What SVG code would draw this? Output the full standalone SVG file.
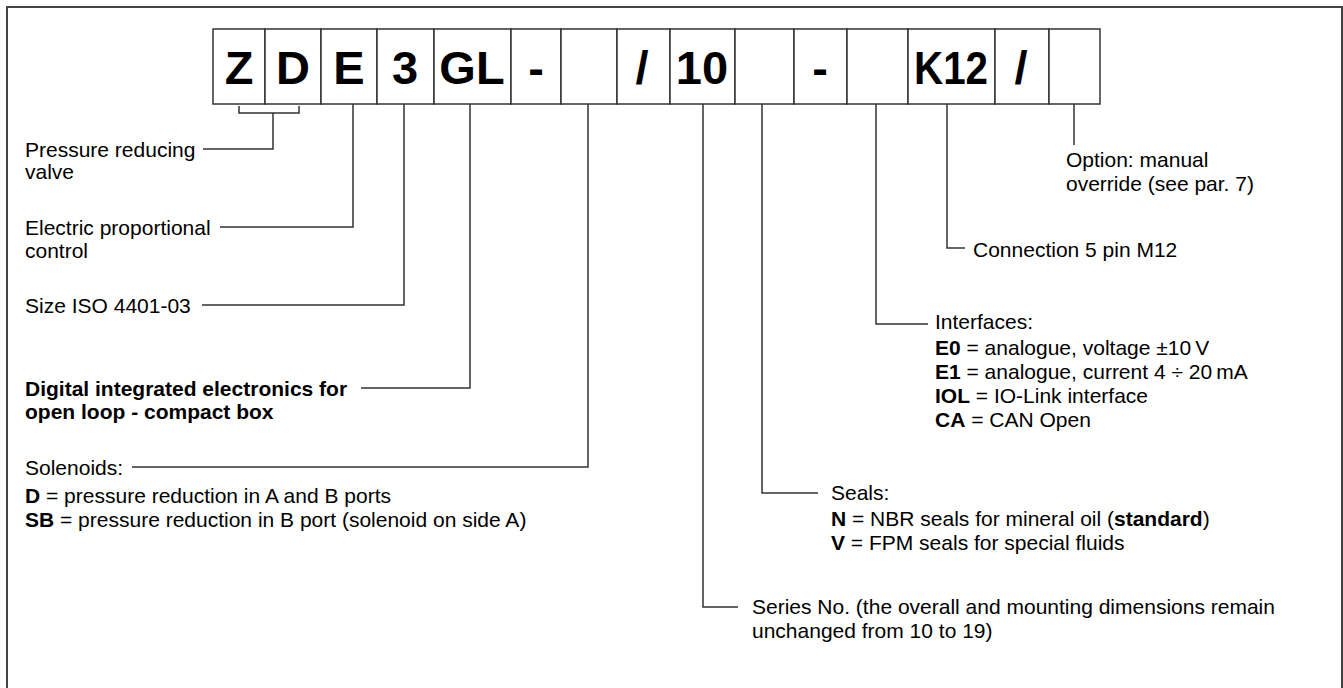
<svg xmlns="http://www.w3.org/2000/svg" width="1343" height="688" viewBox="0 0 1343 688">
<style>
.frame{fill:none;stroke:#444;stroke-width:2}
.cell{fill:#fff;stroke:#333;stroke-width:1.5}
.code{font-family:"Liberation Sans",Arial,sans-serif;font-weight:bold;font-size:47px;fill:#000;text-anchor:middle}
.t{font-family:"Liberation Sans",Arial,sans-serif;font-size:21px;fill:#000}
.b{font-weight:bold}
.c{fill:none;stroke:#333;stroke-width:1.5}
</style>
<rect class="frame" x="7" y="7" width="1335" height="700"/>
<g id="code">
<g id="cell-Z"><rect class="cell" x="213" y="29" width="52" height="75"/><text class="code" x="239" y="84">Z</text></g>
<g id="cell-D"><rect class="cell" x="265" y="29" width="56" height="75"/><text class="code" x="293" y="84">D</text></g>
<g id="cell-E"><rect class="cell" x="321" y="29" width="56" height="75"/><text class="code" x="349" y="84">E</text></g>
<g id="cell-3"><rect class="cell" x="377" y="29" width="57" height="75"/><text class="code" x="405" y="84">3</text></g>
<g id="cell-GL"><rect class="cell" x="434" y="29" width="77" height="75"/><text class="code" x="472" y="84">GL</text></g>
<g id="cell-dash1"><rect class="cell" x="511" y="29" width="50" height="75"/><text class="code" x="536" y="84">-</text></g>
<g id="cell-sol"><rect class="cell" x="561" y="29" width="56" height="75"/></g>
<g id="cell-slash1"><rect class="cell" x="617" y="29" width="53" height="75"/><text class="code" x="642" y="84">/</text></g>
<g id="cell-10"><rect class="cell" x="670" y="29" width="65" height="75"/><text class="code" x="702" y="84">10</text></g>
<g id="cell-seal"><rect class="cell" x="735" y="29" width="59" height="75"/></g>
<g id="cell-dash2"><rect class="cell" x="794" y="29" width="53" height="75"/><text class="code" x="820" y="84">-</text></g>
<g id="cell-if"><rect class="cell" x="847" y="29" width="61" height="75"/></g>
<g id="cell-K12"><rect class="cell" x="908" y="29" width="87" height="75"/><text class="code" x="951" y="84" textLength="74" lengthAdjust="spacingAndGlyphs">K12</text></g>
<g id="cell-slash2"><rect class="cell" x="995" y="29" width="54" height="75"/><text class="code" x="1021" y="84">/</text></g>
<g id="cell-opt"><rect class="cell" x="1049" y="29" width="51" height="75"/></g>
</g>
<g id="connectors">
<polyline class="c" points="239,106 239,113 299,113 299,106"/>
<polyline class="c" points="273,113 273,149 203,149"/>
<polyline class="c" points="353,104 353,227 220,227"/>
<polyline class="c" points="404,104 404,305 202,305"/>
<polyline class="c" points="470,104 470,388 361,388"/>
<polyline class="c" points="588,104 588,467 132,467"/>
<polyline class="c" points="703,104 703,607 738,607"/>
<polyline class="c" points="762,104 762,493 818,493"/>
<polyline class="c" points="876,104 876,324 928,324"/>
<polyline class="c" points="947,104 947,248 965,248"/>
<polyline class="c" points="1074,104 1074,145"/>
</g>
<g id="label-valve"><text class="t" x="25" y="157">Pressure reducing</text><text class="t" x="25" y="179">valve</text></g>
<g id="label-control"><text class="t" x="25" y="235">Electric proportional</text><text class="t" x="25" y="258">control</text></g>
<g id="label-size"><text class="t" x="25" y="313">Size ISO 4401-03</text></g>
<g id="label-electronics"><text class="t b" x="25" y="396">Digital integrated electronics for</text><text class="t b" x="25" y="419">open loop - compact box</text></g>
<g id="label-solenoids"><text class="t" x="25" y="475">Solenoids:</text><text class="t" x="25" y="503"><tspan class="b">D</tspan> = pressure reduction in A and B ports</text><text class="t" x="25" y="527"><tspan class="b">SB</tspan> = pressure reduction in B port (solenoid on side A)</text></g>
<g id="label-series"><text class="t" x="752" y="614">Series No. (the overall and mounting dimensions remain</text><text class="t" x="752" y="638">unchanged from 10 to 19)</text></g>
<g id="label-seals"><text class="t" x="831" y="500">Seals:</text><text class="t" x="831" y="526"><tspan class="b">N</tspan> = NBR seals for mineral oil (<tspan class="b">standard</tspan>)</text><text class="t" x="831" y="550"><tspan class="b">V</tspan> = FPM seals for special fluids</text></g>
<g id="label-interfaces"><text class="t" x="935" y="329">Interfaces:</text><text class="t" x="935" y="355"><tspan class="b">E0</tspan> = analogue, voltage ±10&#8201;V</text><text class="t" x="935" y="379"><tspan class="b">E1</tspan> = analogue, current 4 ÷ 20&#8201;mA</text><text class="t" x="935" y="403"><tspan class="b">IOL</tspan> = IO-Link interface</text><text class="t" x="935" y="427"><tspan class="b">CA</tspan> = CAN Open</text></g>
<g id="label-connection"><text class="t" x="973" y="257">Connection 5 pin M12</text></g>
<g id="label-option"><text class="t" x="1066" y="167">Option: manual</text><text class="t" x="1066" y="191">override (see par. 7)</text></g>
</svg>
